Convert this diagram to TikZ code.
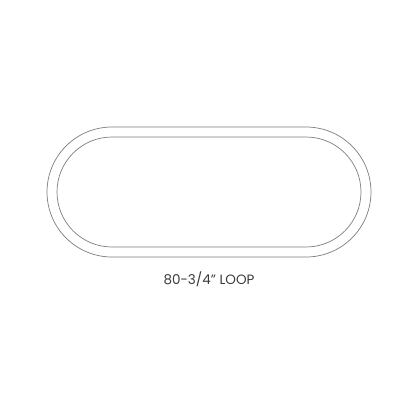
\documentclass[tikz,border=0pt]{standalone}
\usepackage{fontspec}
\setmainfont{Poppins}
\usepackage{tikz}
\usetikzlibrary{positioning}
\definecolor{loopgray}{RGB}{125,125,125}
\definecolor{textgray}{RGB}{60,60,60}
\tikzset{loopline/.style={draw=loopgray,line width=0.7pt,minimum width=#1,inner sep=0pt}}

\begin{document}
\begin{tikzpicture}[x=1pt,y=-1pt]
            \useasboundingbox (0,0) rectangle (416,416);
            \node [loopline=324pt,minimum height=130pt,rounded corners=65pt] (outer) at (209,192) {};
            \node [loopline=304pt,minimum height=110pt,rounded corners=55pt] (inner) at (209,192) {};
            \node [below=11pt of outer,text=textgray,font=\fontsize{13.5}{16}\selectfont] (label) {80-3/4" LOOP};
         \end{tikzpicture}
\end{document}
